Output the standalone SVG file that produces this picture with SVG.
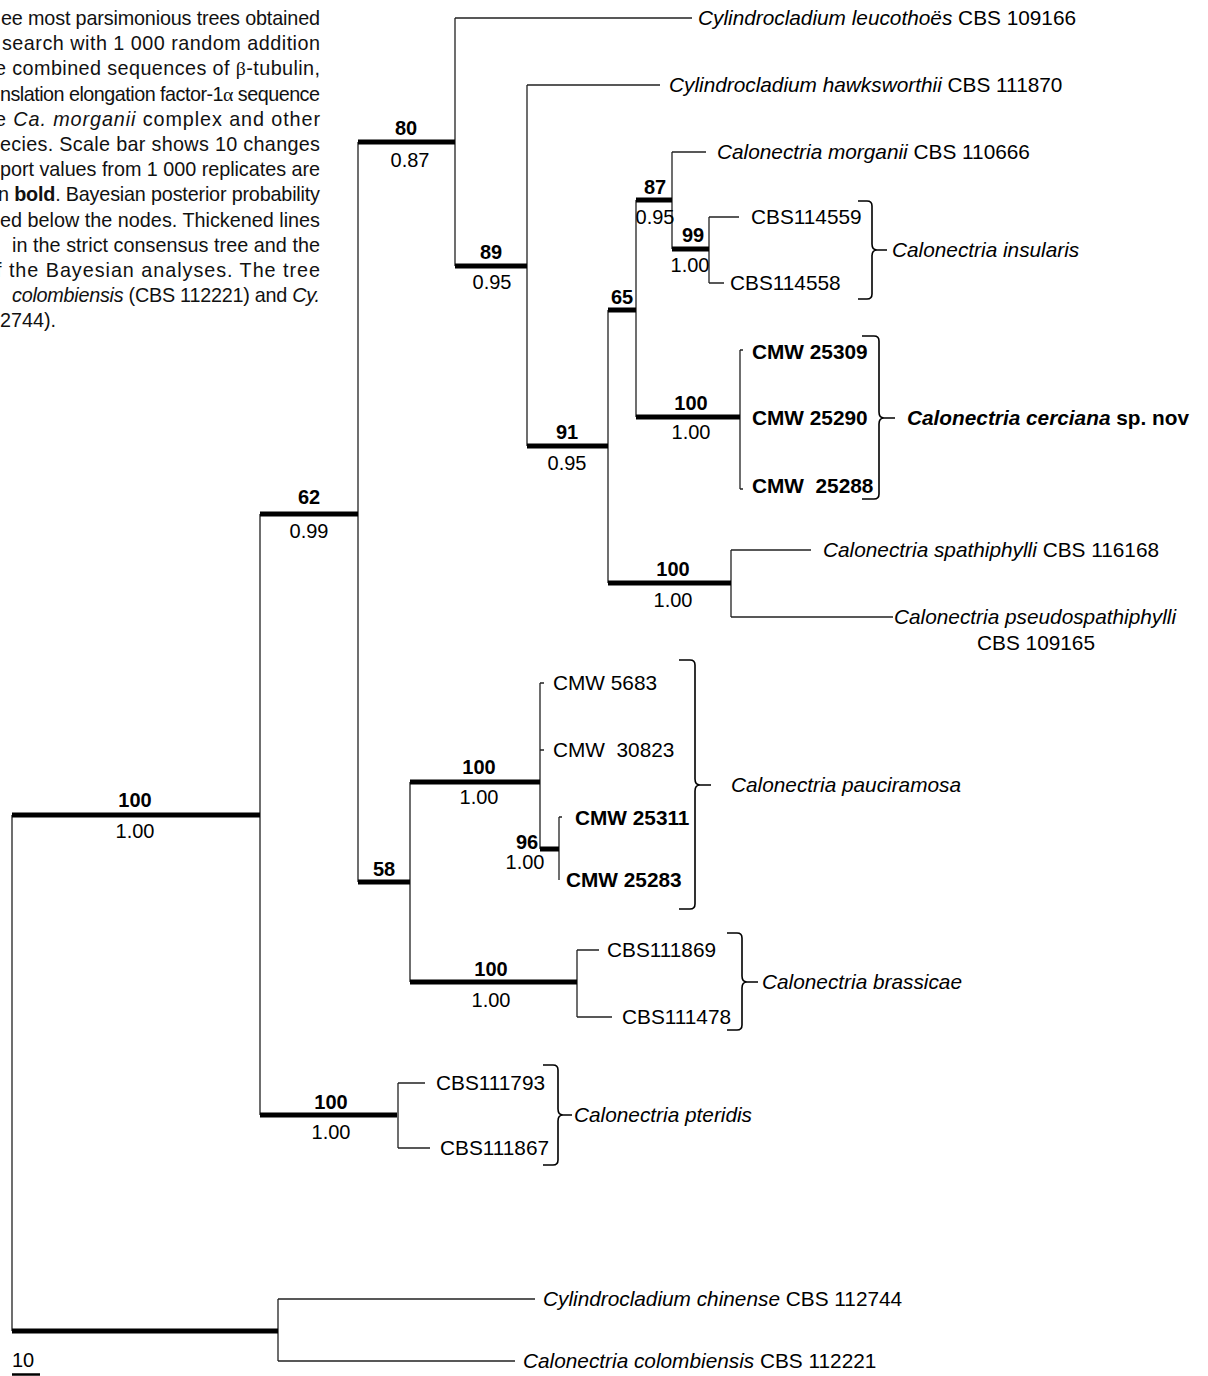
<svg xmlns="http://www.w3.org/2000/svg" width="1208" height="1376" viewBox="0 0 1208 1376">
<style>
text{font-family:"Liberation Sans",Arial,Helvetica,sans-serif;fill:#000}
.cap{font-size:19.8px;fill:#111}
.lab{font-size:20.8px}
.bl{font-size:20.8px;font-weight:bold}
.sv{font-size:20px;text-anchor:middle}
.b{font-weight:bold}
.i{font-style:italic}
.g{font-family:"Liberation Serif","Times New Roman",serif}
.thin{stroke:#222;stroke-width:1.3;fill:none}
.thick{stroke:#000;stroke-width:5;fill:none}
.brace{stroke:#000;stroke-width:1.6;fill:none}
</style>
<rect width="1208" height="1376" fill="#fff"/>

<g id="caption" class="cap">
<text x="1" y="25" textLength="319" lengthAdjust="spacing" class="cap">ee most parsimonious trees obtained</text>
<text x="2" y="50.2" textLength="318" lengthAdjust="spacing" class="cap">search with 1 000 random addition</text>
<text x="-5" y="75.4" textLength="325" lengthAdjust="spacing" class="cap">e combined sequences of <tspan class="g">β</tspan>-tubulin,</text>
<text x="0" y="100.6" textLength="320" lengthAdjust="spacing" class="cap">nslation elongation factor-1<tspan class="g">α</tspan> sequence</text>
<text x="-5" y="125.8" textLength="325" lengthAdjust="spacing" class="cap">e <tspan class="i">Ca. morganii</tspan> complex and other</text>
<text x="0" y="151" textLength="320" lengthAdjust="spacing" class="cap">ecies. Scale bar shows 10 changes</text>
<text x="0" y="176.2" textLength="320" lengthAdjust="spacing" class="cap">port values from 1 000 replicates are</text>
<text x="-2" y="201.4" textLength="322" lengthAdjust="spacing" class="cap">n <tspan class="b">bold</tspan>. Bayesian posterior probability</text>
<text x="0" y="226.6" textLength="320" lengthAdjust="spacing" class="cap">ed below the nodes. Thickened lines</text>
<text x="12" y="251.8" textLength="308" lengthAdjust="spacing" class="cap">in the strict consensus tree and the</text>
<text x="-4" y="277" textLength="324" lengthAdjust="spacing" class="cap">f the Bayesian analyses. The tree</text>
<text x="12" y="302.2" textLength="308" lengthAdjust="spacing" class="cap"><tspan class="i">colombiensis</tspan> (CBS 112221) and <tspan class="i">Cy.</tspan></text>
<text x="0" y="327.4" class="cap">2744).</text>
</g>

<g id="connectors">
<path class="thin" d="M12 815V1331 M260 514V1115 M358 142V882 M455 18V266 M527 85V446 M608 310V583 M636 200V417 M672 152V249 M709 217V283 M740 350V489 M731 550V617 M540 683V849 M559 817V880 M577 950V1017 M398 1083V1148 M410 782V982 M278 1299V1361"/>
<path class="thin" d="M455 18H692 M527 85H660 M672 152H706 M709 217H739 M709 283H724 M731 550H811 M731 617H893 M577 950H599 M577 1017H612 M398 1083H425 M398 1148H430 M278 1299H535 M278 1361H515 M540 683H544 M540 750H544 M559 817H562 M740 350H743 M740 489H743"/>
<path class="thick" d="M12 815H260 M12 1331H278 M260 514H358 M260 1115H397 M358 142H455 M358 882H410 M455 266H527 M527 446H608 M608 310H636 M608 583H731 M636 200H672 M672 249H709 M636 417H740 M410 782H540 M540 849H559 M410 982H577"/>
</g>

<g id="brackets" class="brace">
<path id="br-insularis" d="M858 201H867Q872 201 872 206V244Q872 250 877 250H887M877 250Q872 250 872 256V294Q872 299 867 299H858"/>
<path id="br-cerciana" d="M862 336H874Q879 336 879 341V412Q879 418 884 418H895M884 418Q879 418 879 424V494Q879 499 874 499H862"/>
<path id="br-pauciramosa" d="M679 660H690Q695 660 695 665V779Q695 785 700 785H711M700 785Q695 785 695 791V904Q695 909 690 909H679"/>
<path id="br-brassicae" d="M727 933H737Q742 933 742 938V976Q742 982 747 982H758M747 982Q742 982 742 988V1025Q742 1030 737 1030H727"/>
<path id="br-pteridis" d="M543 1065H553Q558 1065 558 1070V1109Q558 1115 563 1115H572M563 1115Q558 1115 558 1121V1160Q558 1165 553 1165H543"/>
</g>

<g id="taxa">
<g id="t-leucothoes"><text class="lab" x="698" y="25"><tspan class="i">Cylindrocladium leucothoës</tspan> CBS 109166</text></g>
<g id="t-hawksworthii"><text class="lab" x="669" y="92"><tspan class="i">Cylindrocladium hawksworthii</tspan> CBS 111870</text></g>
<g id="t-morganii"><text class="lab" x="717" y="159"><tspan class="i">Calonectria morganii</tspan> CBS 110666</text></g>
<g id="t-CBS114559"><text class="lab" x="751" y="224">CBS114559</text></g>
<g id="t-CBS114558"><text class="lab" x="730" y="290">CBS114558</text></g>
<g id="t-insularis"><text class="lab i" x="892" y="257">Calonectria insularis</text></g>
<g id="t-CMW25309"><text class="bl" x="752" y="359">CMW 25309</text></g>
<g id="t-CMW25290"><text class="bl" x="752" y="425">CMW 25290</text></g>
<g id="t-CMW25288"><text class="bl" x="752" y="493" xml:space="preserve">CMW  25288</text></g>
<g id="t-cerciana"><text class="bl" x="907" y="425"><tspan class="i">Calonectria cerciana</tspan> sp. nov</text></g>
<g id="t-spathiphylli"><text class="lab" x="823" y="557"><tspan class="i">Calonectria spathiphylli</tspan> CBS 116168</text></g>
<g id="t-pseudospathiphylli"><text class="lab i" x="894" y="624">Calonectria pseudospathiphylli</text><text class="lab" x="1036" y="650" text-anchor="middle">CBS 109165</text></g>
<g id="t-CMW5683"><text class="lab" x="553" y="690">CMW 5683</text></g>
<g id="t-CMW30823"><text class="lab" x="553" y="757" xml:space="preserve">CMW  30823</text></g>
<g id="t-CMW25311"><text class="bl" x="575" y="825">CMW 25311</text></g>
<g id="t-CMW25283"><text class="bl" x="566" y="887">CMW 25283</text></g>
<g id="t-pauciramosa"><text class="lab i" x="731" y="792">Calonectria pauciramosa</text></g>
<g id="t-CBS111869"><text class="lab" x="607" y="957">CBS111869</text></g>
<g id="t-CBS111478"><text class="lab" x="622" y="1024">CBS111478</text></g>
<g id="t-brassicae"><text class="lab i" x="762" y="989">Calonectria brassicae</text></g>
<g id="t-CBS111793"><text class="lab" x="436" y="1090">CBS111793</text></g>
<g id="t-CBS111867"><text class="lab" x="440" y="1155">CBS111867</text></g>
<g id="t-pteridis"><text class="lab i" x="574" y="1122">Calonectria pteridis</text></g>
<g id="t-chinense"><text class="lab" x="543" y="1306"><tspan class="i">Cylindrocladium chinense</tspan> CBS 112744</text></g>
<g id="t-colombiensis"><text class="lab" x="523" y="1368"><tspan class="i">Calonectria colombiensis</tspan> CBS 112221</text></g>
</g>

<g id="support">
<g id="n-root"><text class="sv b" x="135" y="807">100</text><text class="sv" x="135" y="838">1.00</text></g>
<g id="n-62"><text class="sv b" x="309" y="504">62</text><text class="sv" x="309" y="538">0.99</text></g>
<g id="n-80"><text class="sv b" x="406" y="135">80</text><text class="sv" x="410" y="167">0.87</text></g>
<g id="n-89"><text class="sv b" x="491" y="259">89</text><text class="sv" x="492" y="289">0.95</text></g>
<g id="n-91"><text class="sv b" x="567" y="439">91</text><text class="sv" x="567" y="470">0.95</text></g>
<g id="n-65"><text class="sv b" x="622" y="304">65</text></g>
<g id="n-87"><text class="sv b" x="655" y="194">87</text><text class="sv" x="655" y="224">0.95</text></g>
<g id="n-99"><text class="sv b" x="693" y="242">99</text><text class="sv" x="690" y="272">1.00</text></g>
<g id="n-cerciana"><text class="sv b" x="691" y="410">100</text><text class="sv" x="691" y="439">1.00</text></g>
<g id="n-spath"><text class="sv b" x="673" y="576">100</text><text class="sv" x="673" y="607">1.00</text></g>
<g id="n-58"><text class="sv b" x="384" y="876">58</text></g>
<g id="n-pauci"><text class="sv b" x="479" y="774">100</text><text class="sv" x="479" y="804">1.00</text></g>
<g id="n-96"><text class="sv b" x="527" y="849">96</text><text class="sv" x="525" y="869">1.00</text></g>
<g id="n-brassicae"><text class="sv b" x="491" y="976">100</text><text class="sv" x="491" y="1007">1.00</text></g>
<g id="n-pteridis"><text class="sv b" x="331" y="1109">100</text><text class="sv" x="331" y="1139">1.00</text></g>
</g>

<g id="scalebar">
<text x="12" y="1367" style="font-size:20px">10</text>
<line x1="12" y1="1374.5" x2="40" y2="1374.5" stroke="#000" stroke-width="2.5"/>
</g>
</svg>
